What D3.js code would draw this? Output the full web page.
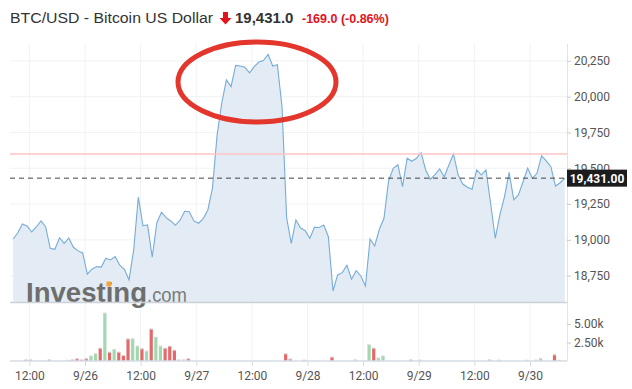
<!DOCTYPE html>
<html>
<head>
<meta charset="utf-8">
<script src="https://cdn.jsdelivr.net/npm/d3@7"></script>
<style>
body { margin: 0; background: #fff; }
svg text { font-family: Roboto, "Liberation Sans", Arial, sans-serif; }
</style>
</head>
<body>
<div id="chart"></div>
<script>
// hourly closes, first bar 9/25 08:30
const startTime = new Date(2022, 8, 25, 8, 30);
const prices = [
    19006, 19050, 19111, 19097, 19055, 19090, 19132, 19092, 18941, 18934,
    19015, 18976, 19013, 18948, 18923, 18909, 18760, 18795, 18813, 18810,
    18872, 18860, 18883, 18823, 18795, 18720, 18930, 19298, 19099, 19104,
    18879, 19120, 19193, 19155, 19132, 19102, 19137, 19200, 19197, 19132,
    19116, 19148, 19209, 19362, 19733, 19956, 20117, 20070, 20219, 20214,
    20205, 20166, 20210, 20242, 20253, 20295, 20214, 20224, 19930, 19153,
    18976, 19139, 19083, 19064, 19011, 19088, 19086, 19104, 19022, 18643,
    18755, 18771, 18823, 18725, 18785, 18748, 18678, 19006, 18957, 19074,
    19151, 19413, 19500, 19525, 19372, 19570, 19549, 19570, 19609, 19488,
    19423, 19455, 19495, 19441, 19523, 19600, 19453, 19390, 19367, 19353,
    19488, 19453, 19488, 19256, 19011, 19174, 19302, 19472, 19279, 19314,
    19406, 19500, 19430, 19465, 19586, 19551, 19511, 19376, 19399, 19431
];
const volumes = [
    0, 0, 0, 150, 150, 0, 0, 0, 150, 0,
    0, 0, 100, 150, 310, 150, 310, 670, 980, 1740,
    6470, 1205, 1560, 1205, 760, 2990, 2990, 2010, 1650, 1340,
    4330, 3210, 2010, 1740, 2010, 1470, 150, 150, 310, 0,
    0, 0, 0, 0, 0, 0, 0, 0, 0, 0,
    0, 0, 0, 0, 0, 0, 0, 0, 0, 980,
    270, 0, 0, 120, 0, 0, 0, 0, 0, 535,
    0, 0, 0, 0, 150, 0, 0, 2190, 1740, 400,
    670, 0, 0, 0, 0, 0, 150, 0, 120, 0,
    0, 0, 0, 0, 0, 0, 0, 0, 0, 0,
    0, 0, 0, 150, 0, 120, 0, 0, 0, 0,
    0, 100, 0, 120, 310, 0, 0, 850, 100, 0
];
const priceTicks = [18750, 19000, 19250, 19500, 19750, 20000, 20250];
const volumeTicks = [2500, 5000];
const lastPrice = 19431;
const refPrice = 19600;
const priceChange = -169.0;
const pctChange = -0.86;
const title = "BTC/USD - Bitcoin US Dollar";

const W = 632, H = 389;
const left = 10, right = 567;
const mainTop = 44, mainBottom = 302;
const volTop = 305, volBottom = 361;

let data = prices.map((p, i) => ({
    t: d3.timeHour.offset(startTime, i),
    price: p,
    vol: volumes[i],
    up: i === 0 ? true : p >= prices[i - 1]
}));

let svg = d3.select("#chart").append("svg")
    .attr("width", W)
    .attr("height", H);

let x = d3.scaleTime()
    .domain([new Date(2022, 8, 26), new Date(2022, 8, 30)])
    .range([85, 530]);
let y = d3.scaleLinear().domain([18566, 20368]).range([mainBottom, mainTop]);
let yv = d3.scaleLinear().domain([0, 5000]).range([volBottom, 324]);

let timeTicks = d3.timeHour.every(12).range(startTime, d3.timeHour.offset(startTime, prices.length));

// grid
svg.append("g").selectAll("line")
    .data(timeTicks).enter()
    .append("line")
    .attr("x1", d => x(d)).attr("x2", d => x(d))
    .attr("y1", mainTop).attr("y2", volBottom)
    .attr("stroke", "#f1f2f4");
svg.append("g").selectAll("line")
    .data(priceTicks).enter()
    .append("line")
    .attr("x1", left).attr("x2", right)
    .attr("y1", d => y(d)).attr("y2", d => y(d))
    .attr("stroke", "#f1f2f4");

// area + line
svg.append("path")
    .datum(data)
    .attr("fill", "#e3ecf4")
    .attr("d", d3.area().x(d => x(d.t)).y0(mainBottom).y1(d => y(d.price)));
svg.append("path")
    .datum(data)
    .attr("fill", "none")
    .attr("stroke", "#76acd9")
    .attr("stroke-width", 1.1)
    .attr("d", d3.line().x(d => x(d.t)).y(d => y(d.price)));

// reference lines
svg.append("line")
    .attr("x1", left).attr("x2", right)
    .attr("y1", y(refPrice)).attr("y2", y(refPrice))
    .attr("stroke", "#ffc4c4").attr("stroke-width", 1.5);
svg.append("line")
    .attr("x1", left).attr("x2", right)
    .attr("y1", y(lastPrice)).attr("y2", y(lastPrice))
    .attr("stroke", "#444").attr("stroke-dasharray", "5,4");

// watermark
let wm = svg.append("g");
wm.append("text")
    .attr("x", 26).attr("y", 302)
    .attr("font-weight", "bold")
    .attr("font-size", 28)
    .attr("textLength", 121)
    .attr("lengthAdjust", "spacingAndGlyphs")
    .attr("fill", "#6e6e6e")
    .style("font-family", "'Liberation Sans', Arial, sans-serif")
    .text("Investing");
wm.append("text")
    .attr("x", 147).attr("y", 302)
    .attr("font-size", 20)
    .attr("textLength", 40)
    .attr("lengthAdjust", "spacingAndGlyphs")
    .attr("fill", "#7a7a7a")
    .style("font-family", "'Liberation Sans', Arial, sans-serif")
    .text(".com");
wm.append("rect")
    .attr("x", 106.5).attr("y", 281.5)
    .attr("width", 4.5).attr("height", 5)
    .attr("fill", "#f2a33a");

// panel separators
svg.append("line")
    .attr("x1", left).attr("x2", right)
    .attr("y1", mainBottom + 0.5).attr("y2", mainBottom + 0.5)
    .attr("stroke", "#cdd1d7").attr("stroke-width", 1.5);
svg.append("line")
    .attr("x1", right + 0.5).attr("x2", right + 0.5)
    .attr("y1", mainTop).attr("y2", volBottom)
    .attr("stroke", "#e1e3e6");

// volume bars
let bars = svg.append("g").selectAll("g")
    .data(data.filter(d => d.vol > 0)).enter()
    .append("g");
bars.append("rect")
    .attr("x", d => x(d.t) - 2.6)
    .attr("width", 3.2)
    .attr("y", d => yv(d.vol))
    .attr("height", d => volBottom - yv(d.vol))
    .attr("fill", d => d.up ? "#a2d8b0" : "#e26a6a");
bars.append("rect")
    .attr("x", d => x(d.t) - 2.6)
    .attr("width", 3.2)
    .attr("y", d => yv(d.vol) - 0.5)
    .attr("height", 1.2)
    .attr("fill", "#d4d4d4");

// x axis
svg.append("line")
    .attr("x1", left).attr("x2", right)
    .attr("y1", volBottom).attr("y2", volBottom)
    .attr("stroke", "#d6dce6").attr("stroke-width", 1.5);
let xAxis = svg.append("g")
    .attr("transform", `translate(0,${volBottom})`)
    .call(d3.axisBottom(x)
        .tickValues(timeTicks)
        .tickSize(5)
        .tickPadding(5)
        .tickFormat(d => d.getHours() === 12 ? "12:00" : d3.timeFormat("%-m/%-d")(d)));
xAxis.select(".domain").remove();
xAxis.selectAll(".tick line").attr("stroke", "#d6dce6");
xAxis.selectAll(".tick text").attr("fill", "#555").attr("font-size", 12);

// price axis
let yAxis = svg.append("g")
    .attr("transform", `translate(${right},0)`)
    .call(d3.axisRight(y).tickValues(priceTicks).tickSize(4).tickPadding(3).tickFormat(d3.format(",")));
yAxis.select(".domain").remove();
yAxis.selectAll(".tick line").attr("stroke", "#ccc");
yAxis.selectAll(".tick text").attr("fill", "#555").attr("font-size", 12);

// volume axis
let vAxis = svg.append("g")
    .attr("transform", `translate(${right},0)`)
    .call(d3.axisRight(yv).tickValues(volumeTicks).tickSize(4).tickPadding(3)
        .tickFormat(d => (d / 1000).toFixed(2) + "k"));
vAxis.select(".domain").remove();
vAxis.selectAll(".tick line").attr("stroke", "#ccc");
vAxis.selectAll(".tick text").attr("fill", "#555").attr("font-size", 12);

// last price label (covers the 19,500 tick like the original)
svg.append("rect")
    .attr("x", right).attr("y", y(lastPrice) - 8.5)
    .attr("width", 60).attr("height", 17)
    .attr("fill", "#1c1c1c");
svg.append("text")
    .attr("x", right + 30).attr("y", y(lastPrice) + 4.5)
    .attr("text-anchor", "middle")
    .attr("font-size", 12)
    .attr("font-weight", "bold")
    .attr("fill", "#fff")
    .text(d3.format(",.2f")(lastPrice));

// highlight ellipse
svg.append("ellipse")
    .attr("cx", 257).attr("cy", 82)
    .attr("rx", 79).attr("ry", 40)
    .attr("fill", "none")
    .attr("stroke", "#e3362c")
    .attr("stroke-width", 5);

// header
let head = svg.append("g");
head.append("text")
    .attr("x", 10).attr("y", 23)
    .attr("font-size", 15.5)
    .attr("textLength", 203)
    .attr("lengthAdjust", "spacingAndGlyphs")
    .attr("fill", "#333")
    .style("font-family", "'Liberation Sans', Arial, sans-serif")
    .text(title);
head.append("path")
    .attr("d", "M223,12 h5 v6 h3.5 l-6,6.5 l-6,-6.5 h3.5 z")
    .attr("fill", "#e3121b");
head.append("text")
    .attr("x", 235).attr("y", 23)
    .attr("font-size", 15)
    .attr("font-weight", "bold")
    .attr("fill", "#333")
    .style("font-family", "'Liberation Sans', Arial, sans-serif")
    .text(d3.format(",.1f")(lastPrice));
head.append("text")
    .attr("x", 302).attr("y", 23)
    .attr("font-size", 12.5)
    .attr("font-weight", "bold")
    .attr("fill", "#e3121b")
    .style("font-family", "'Liberation Sans', Arial, sans-serif")
    .text(`${priceChange.toFixed(1)}  (${pctChange.toFixed(2)}%)`);
</script>
</body>
</html>
